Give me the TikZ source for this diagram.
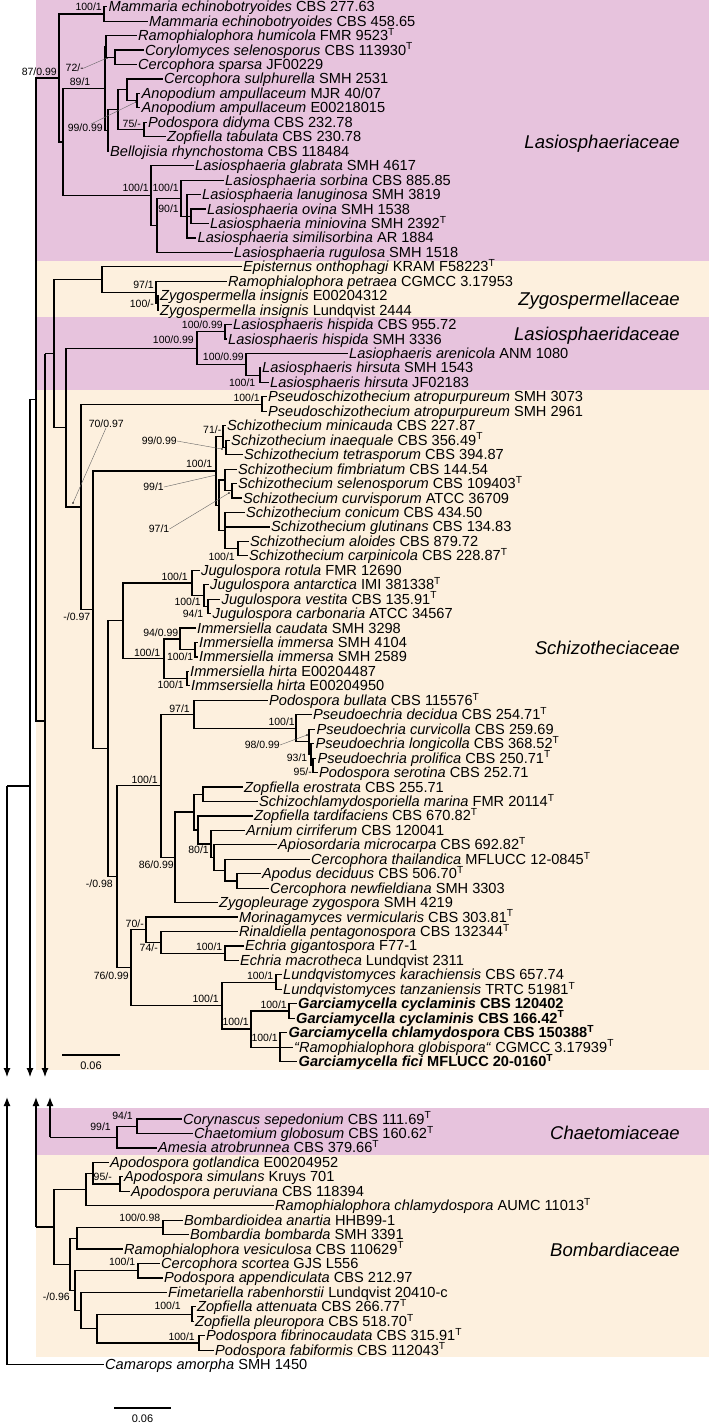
\documentclass[tikz,border=0pt]{standalone}
\usepackage{fontspec}
\setmainfont{Liberation Sans}
\usetikzlibrary{arrows.meta}
\definecolor{pinkbg}{RGB}{231,195,221}
\definecolor{creambg}{RGB}{253,240,222}
\newcommand\taxfont{\fontsize{14.6}{16}\selectfont}
\newcommand\bsfont{\fontsize{10.5}{12}\selectfont}
\newcommand\famfont{\fontsize{18.5}{20}\selectfont\itshape}
\newcommand\supT{\textsuperscript{T}}
\begin{document}
\begin{tikzpicture}[x=1pt,y=-1pt,
  br/.style={line width=1.2pt,black},
  arr/.style={br,-{Latex[length=9pt,width=7pt]}},
  tip/.style={anchor=west,inner xsep=1.5pt,inner ysep=0pt,font=\taxfont,text height=10pt,text depth=0pt},
  bs/.style={anchor=east,inner sep=0pt,font=\bsfont,text height=7.5pt,text depth=0pt},
  fam/.style={anchor=east,inner sep=0pt,font=\famfont,text height=13.3pt,text depth=0pt},
  sc/.style={inner sep=0pt,font=\fontsize{11}{12}\selectfont},
  lead/.style={line width=0.4pt,black!60}]
\useasboundingbox (0,0) rectangle (709,1425);
\fill[white] (0,0) rectangle (709,1425);
% bands
\fill[pinkbg] (36,0) rectangle (709,261);
\fill[creambg] (36,261) rectangle (709,317);
\fill[pinkbg] (36,317) rectangle (709,390);
\fill[creambg] (36,390) rectangle (709,1070);
\fill[pinkbg] (36,1108) rectangle (709,1155);
\fill[creambg] (36,1155) rectangle (709,1357);
% family labels
\node[fam] (fam1) at (680,142) {Lasiosphaeriaceae};
\node[fam] (fam2) at (680,299) {Zygospermellaceae};
\node[fam] (fam3) at (680,334) {Lasiosphaeridaceae};
\node[fam] (fam4) at (680,648) {Schizotheciaceae};
\node[fam] (fam5) at (680,1133) {Chaetomiaceae};
\node[fam] (fam6) at (680,1250) {Bombardiaceae};
% tips upper
\node[tip] (t1) at (107,6.70) {\textit{Mammaria echinobotryoides} CBS 277.63};
\node[tip] (t2) at (147.5,21.15) {\textit{Mammaria echinobotryoides} CBS 458.65};
\node[tip] (t3) at (136.5,35.60) {\textit{Ramophialophora humicola} FMR 9523\supT};
\node[tip] (t4) at (143.5,50.05) {\textit{Corylomyces selenosporus} CBS 113930\supT};
\node[tip] (t5) at (136.5,64.50) {\textit{Cercophora sparsa} JF00229};
\node[tip] (t6) at (162.5,78.95) {\textit{Cercophora sulphurella} SMH 2531};
\node[tip] (t7) at (140,93.40) {\textit{Anopodium ampullaceum} MJR 40/07};
\node[tip] (t8) at (140,107.85) {\textit{Anopodium ampullaceum} E00218015};
\node[tip] (t9) at (146.5,122.30) {\textit{Podospora didyma} CBS 232.78};
\node[tip] (t10) at (165.5,136.75) {\textit{Zopfiella tabulata} CBS 230.78};
\node[tip] (t11) at (108.5,151.20) {\textit{Bellojisia rhynchostoma} CBS 118484};
\node[tip] (t12) at (193.5,165.65) {\textit{Lasiosphaeria glabrata} SMH 4617};
\node[tip] (t13) at (223.5,180.10) {\textit{Lasiosphaeria sorbina} CBS 885.85};
\node[tip] (t14) at (200.5,194.55) {\textit{Lasiosphaeria lanuginosa} SMH 3819};
\node[tip] (t15) at (205.5,209.00) {\textit{Lasiosphaeria ovina} SMH 1538};
\node[tip] (t16) at (208.5,223.45) {\textit{Lasiosphaeria miniovina} SMH 2392\supT};
\node[tip] (t17) at (196,237.90) {\textit{Lasiosphaeria similisorbina} AR 1884};
\node[tip] (t18) at (232.5,252.35) {\textit{Lasiosphaeria rugulosa} SMH 1518};
\node[tip] (t19) at (241.5,266.80) {\textit{Episternus onthophagi} KRAM F58223\supT};
\node[tip] (t20) at (226.5,281.25) {\textit{Ramophialophora petraea} CGMCC 3.17953};
\node[tip] (t21) at (158.5,295.70) {\textit{Zygospermella insignis} E00204312};
\node[tip] (t22) at (158.5,310.15) {\textit{Zygospermella insignis} Lundqvist 2444};
\node[tip] (t23) at (231.5,324.60) {\textit{Lasiosphaeris hispida} CBS 955.72};
\node[tip] (t24) at (226.5,339.05) {\textit{Lasiosphaeris hispida} SMH 3336};
\node[tip] (t25) at (347.5,353.50) {\textit{Lasiophaeris arenicola} ANM 1080};
\node[tip] (t26) at (260.5,367.95) {\textit{Lasiosphaeris hirsuta} SMH 1543};
\node[tip] (t27) at (268.5,382.40) {\textit{Lasiosphaeris hirsuta} JF02183};
\node[tip] (t28) at (266.5,396.85) {\textit{Pseudoschizothecium atropurpureum} SMH 3073};
\node[tip] (t29) at (266.5,411.30) {\textit{Pseudoschizothecium atropurpureum} SMH 2961};
\node[tip] (t30) at (225.5,425.75) {\textit{Schizothecium minicauda} CBS 227.87};
\node[tip] (t31) at (229.5,440.20) {\textit{Schizothecium inaequale} CBS 356.49\supT};
\node[tip] (t32) at (242.5,454.65) {\textit{Schizothecium tetrasporum} CBS 394.87};
\node[tip] (t33) at (236.5,469.10) {\textit{Schizothecium fimbriatum} CBS 144.54};
\node[tip] (t34) at (236.5,483.55) {\textit{Schizothecium selenosporum} CBS 109403\supT};
\node[tip] (t35) at (241.5,498.00) {\textit{Schizothecium curvisporum} ATCC 36709};
\node[tip] (t36) at (244.5,512.45) {\textit{Schizothecium conicum} CBS 434.50};
\node[tip] (t37) at (269.5,526.90) {\textit{Schizothecium glutinans} CBS 134.83};
\node[tip] (t38) at (248.5,541.35) {\textit{Schizothecium aloides} CBS 879.72};
\node[tip] (t39) at (247.5,555.80) {\textit{Schizothecium carpinicola} CBS 228.87\supT};
\node[tip] (t40) at (199.5,570.25) {\textit{Jugulospora rotula} FMR 12690};
\node[tip] (t41) at (208.5,584.70) {\textit{Jugulospora antarctica} IMI 381338\supT};
\node[tip] (t42) at (220,599.15) {\textit{Jugulospora vestita} CBS 135.91\supT};
\node[tip] (t43) at (211,613.60) {\textit{Jugulospora carbonaria} ATCC 34567};
\node[tip] (t44) at (195.5,628.05) {\textit{Immersiella caudata} SMH 3298};
\node[tip] (t45) at (197.5,642.50) {\textit{Immersiella immersa} SMH 4104};
\node[tip] (t46) at (197.5,656.95) {\textit{Immersiella immersa} SMH 2589};
\node[tip] (t47) at (188.5,671.40) {\textit{Immersiella hirta} E00204487};
\node[tip] (t48) at (189.5,685.85) {\textit{Immsersiella hirta} E00204950};
\node[tip] (t49) at (267.5,700.30) {\textit{Podospora bullata} CBS 115576\supT};
\node[tip] (t50) at (311.5,714.75) {\textit{Pseudoechria decidua} CBS 254.71\supT};
\node[tip] (t51) at (315,729.20) {\textit{Pseudoechria curvicolla} CBS 259.69};
\node[tip] (t52) at (314,743.65) {\textit{Pseudoechria longicolla} CBS 368.52\supT};
\node[tip] (t53) at (316,758.10) {\textit{Pseudoechria prolifica} CBS 250.71\supT};
\node[tip] (t54) at (317.5,772.55) {\textit{Podospora serotina} CBS 252.71};
\node[tip] (t55) at (242.5,787.00) {\textit{Zopfiella erostrata} CBS 255.71};
\node[tip] (t56) at (257.5,801.45) {\textit{Schizochlamydosporiella marina} FMR 20114\supT};
\node[tip] (t57) at (252.5,815.90) {\textit{Zopfiella tardifaciens} CBS 670.82\supT};
\node[tip] (t58) at (244.5,830.35) {\textit{Arnium cirriferum} CBS 120041};
\node[tip] (t59) at (276.5,844.80) {\textit{Apiosordaria microcarpa} CBS 692.82\supT};
\node[tip] (t60) at (309.5,859.25) {\textit{Cercophora thailandica} MFLUCC 12-0845\supT};
\node[tip] (t61) at (260.5,873.70) {\textit{Apodus deciduus} CBS 506.70\supT};
\node[tip] (t62) at (268.5,888.15) {\textit{Cercophora newfieldiana} SMH 3303};
\node[tip] (t63) at (217.5,902.60) {\textit{Zygopleurage zygospora} SMH 4219};
\node[tip] (t64) at (237.5,917.05) {\textit{Morinagamyces vermicularis} CBS 303.81\supT};
\node[tip] (t65) at (237.5,931.50) {\textit{Rinaldiella pentagonospora} CBS 132344\supT};
\node[tip] (t66) at (243.5,945.95) {\textit{Echria gigantospora} F77-1};
\node[tip] (t67) at (238.5,960.40) {\textit{Echria macrotheca} Lundqvist 2311};
\node[tip] (t68) at (281.5,974.85) {\textit{Lundqvistomyces karachiensis} CBS 657.74};
\node[tip] (t69) at (281.5,989.30) {\textit{Lundqvistomyces tanzaniensis} TRTC 51981\supT};
\node[tip] (t70) at (296.5,1003.75) {\textbf{\textit{Garciamycella cyclaminis} CBS 120402}};
\node[tip] (t71) at (294.5,1018.20) {\textbf{\textit{Garciamycella cyclaminis} CBS 166.42\supT}};
\node[tip] (t72) at (287,1032.65) {\textbf{\textit{Garciamycella chlamydospora} CBS 150388\supT}};
\node[tip] (t73) at (292.5,1047.10) {\textit{“Ramophialophora globispora“} CGMCC 3.17939\supT};
\node[tip] (t74) at (297,1061.55) {\textbf{\textit{Garciamycella fici} MFLUCC 20-0160\supT}};
% tips lower
\node[tip] (u0) at (181.5,1119.00) {\textit{Corynascus sepedonium} CBS 111.69\supT};
\node[tip] (u1) at (192.5,1133.45) {\textit{Chaetomium globosum} CBS 160.62\supT};
\node[tip] (u2) at (156.5,1147.90) {\textit{Amesia atrobrunnea} CBS 379.66\supT};
\node[tip] (u3) at (108.5,1162.35) {\textit{Apodospora gotlandica} E00204952};
\node[tip] (u4) at (122.5,1176.80) {\textit{Apodospora simulans} Kruys 701};
\node[tip] (u5) at (129.5,1191.25) {\textit{Apodospora peruviana} CBS 118394};
\node[tip] (u6) at (273.5,1205.70) {\textit{Ramophialophora chlamydospora} AUMC 11013\supT};
\node[tip] (u7) at (182.5,1220.15) {\textit{Bombardioidea anartia} HHB99-1};
\node[tip] (u8) at (188.5,1234.60) {\textit{Bombardia bombarda} SMH 3391};
\node[tip] (u9) at (122.5,1249.05) {\textit{Ramophialophora vesiculosa} CBS 110629\supT};
\node[tip] (u10) at (159.5,1263.50) {\textit{Cercophora scortea} GJS L556};
\node[tip] (u11) at (162.5,1277.95) {\textit{Podospora appendiculata} CBS 212.97};
\node[tip] (u12) at (166.5,1292.40) {\textit{Fimetariella rabenhorstii} Lundqvist 20410-c};
\node[tip] (u13) at (195.5,1306.85) {\textit{Zopfiella attenuata} CBS 266.77\supT};
\node[tip] (u14) at (193.5,1321.30) {\textit{Zopfiella pleuropora} CBS 518.70\supT};
\node[tip] (u15) at (204.5,1335.75) {\textit{Podospora fibrinocaudata} CBS 315.91\supT};
\node[tip] (u16) at (213.5,1350.20) {\textit{Podospora fabiformis} CBS 112043\supT};
\node[tip] (u17) at (103.5,1364.65) {\textit{Camarops amorpha} SMH 1450};
% internal nodes upper
\coordinate (M) at (104,13.9);
\coordinate (C1) at (115,57.3);
\coordinate (C) at (106,46.4);
\coordinate (AN) at (137,100.6);
\coordinate (N127) at (127,89.8);
\coordinate (PD) at (144,129.5);
\coordinate (N118) at (118,109.7);
\coordinate (E) at (108,130.4);
\coordinate (D) at (105,88.4);
\coordinate (K) at (191,216.2);
\coordinate (I) at (187,216.2);
\coordinate (H) at (181,198.2);
\coordinate (G) at (157,225.3);
\coordinate (F) at (151,195.5);
\coordinate (B) at (63,142.0);
\coordinate (A) at (59,78.0);
\coordinate (Z3) at (158,302.9);
\coordinate (Z2) at (156,292.1);
\coordinate (Z1) at (102,279.5);
\coordinate (Q1) at (225,331.8);
\coordinate (Q3) at (260,375.2);
\coordinate (Q2) at (246,364.3);
\coordinate (Q0) at (197,348.1);
\coordinate (P) at (262,404.1);
\coordinate (S2) at (226,447.4);
\coordinate (S1) at (223,436.6);
\coordinate (S4) at (232,490.8);
\coordinate (S3) at (225,479.9);
\coordinate (S6) at (238,548.6);
\coordinate (S5) at (225,530.5);
\coordinate (S0b) at (219,505.2);
\coordinate (S0) at (216,470.9);
\coordinate (J3) at (208,606.4);
\coordinate (J2) at (204,595.5);
\coordinate (J1) at (192,582.9);
\coordinate (I1b) at (195,649.7);
\coordinate (I1) at (180,638.9);
\coordinate (I2) at (187,678.6);
\coordinate (I0) at (164,658.8);
\coordinate (J0) at (123,620.8);
\coordinate (PE3) at (313,765.3);
\coordinate (PE2) at (311,754.5);
\coordinate (PE1) at (309,741.8);
\coordinate (PE0) at (296,728.3);
\coordinate (PB) at (194,714.3);
\coordinate (ZE) at (203,794.2);
\coordinate (AD) at (237,880.9);
\coordinate (CT) at (225,870.1);
\coordinate (AP) at (214,857.5);
\coordinate (AR) at (211,843.9);
\coordinate (TA) at (198,829.9);
\coordinate (ZT) at (194,812.0);
\coordinate (N175) at (175,857.3);
\coordinate (N161) at (161,785.8);
\coordinate (EC) at (225,953.2);
\coordinate (RE) at (161,942.3);
\coordinate (MR) at (146,929.7);
\coordinate (LU) at (276,982.1);
\coordinate (GB) at (289,1011.0);
\coordinate (GC) at (280,1047.1);
\coordinate (GA) at (251,1029.0);
\coordinate (LG) at (222,1005.6);
\coordinate (N131) at (131,967.6);
\coordinate (N117) at (117,876.7);
\coordinate (N108) at (108,748.8);
\coordinate (N93) at (93,609.8);
\coordinate (N81) at (81,507.0);
\coordinate (N66) at (66,427.6);
\coordinate (N54) at (54,353.5);
\coordinate (N45) at (45,353.5);
\coordinate (N45h) at (45,721);
\coordinate (N36) at (36,399.4);
\coordinate (N30) at (30,399.4);
\coordinate (N30r) at (30,786);
\coordinate (R) at (7,786);
\coordinate (aR) at (7,1077);
\coordinate (aN30) at (30,1077);
\coordinate (aN45) at (45,1077);
% internal nodes lower
\coordinate (CH1) at (137,1126.2);
\coordinate (CH0) at (117,1137.1);
\coordinate (l50) at (50,1137.1);
\coordinate (AP1) at (120,1184.0);
\coordinate (AP0) at (93,1173.2);
\coordinate (APn) at (86,1189.5);
\coordinate (BB) at (163,1227.4);
\coordinate (BV) at (77,1238.2);
\coordinate (CS) at (138,1270.7);
\coordinate (ZA) at (192,1314.1);
\coordinate (PF) at (199,1343.0);
\coordinate (ZP) at (97,1328.5);
\coordinate (FI) at (81,1310.4);
\coordinate (CF) at (75,1290.5);
\coordinate (BO1) at (70,1264.4);
\coordinate (BO0) at (54,1226.9);
\coordinate (l36) at (36,1226.9);
\coordinate (lR) at (7,1364.65);
\coordinate (bR) at (7,1097);
\coordinate (b36) at (36,1097);
\coordinate (b50) at (50,1097);
% branches
\foreach \p/\c in {M/t1,M/t2,C/t3,C/C1,C1/t4,C1/t5,AN/t7,AN/t8,N127/t6,N127/AN,PD/t9,PD/t10,
  N118/N127,N118/PD,E/N118,E/t11,D/C,D/E,K/t15,K/t16,I/t14,I/K,I/t17,H/t13,H/I,G/H,G/t18,
  F/t12,F/G,B/D,B/F,A/M,A/B,
  Z3/t21,Z3/t22,Z2/t20,Z2/Z3,Z1/t19,Z1/Z2,
  Q1/t23,Q1/t24,Q3/t26,Q3/t27,Q2/t25,Q2/Q3,Q0/Q1,Q0/Q2,
  P/t28,P/t29,
  S2/t31,S2/t32,S1/t30,S1/S2,S4/t34,S4/t35,S3/t33,S3/S4,S6/t38,S6/t39,S5/t36,S5/t37,S5/S6,
  S0b/S3,S0b/S5,S0/S1,S0/S0b,
  J3/t42,J3/t43,J2/t41,J2/J3,J1/t40,J1/J2,I1b/t45,I1b/t46,I1/t44,I1/I1b,I2/t47,I2/t48,
  I0/I1,I0/I2,J0/J1,J0/I0,
  PE3/t53,PE3/t54,PE2/t52,PE2/PE3,PE1/t51,PE1/PE2,PE0/t50,PE0/PE1,PB/t49,PB/PE0,
  ZE/t55,ZE/t56,AD/t61,AD/t62,CT/t60,CT/AD,AP/t59,AP/CT,AR/t58,AR/AP,TA/t57,TA/AR,
  ZT/ZE,ZT/TA,N175/ZT,N175/t63,N161/PB,N161/N175,
  EC/t66,EC/t67,RE/t65,RE/EC,MR/t64,MR/RE,LU/t68,LU/t69,GB/t70,GB/t71,GC/t72,GC/t73,GC/t74,
  GA/GB,GA/GC,LG/LU,LG/GA,N131/MR,N131/LG,
  N117/N161,N117/N131,N108/J0,N108/N117,N93/S0,N93/N108,N81/P,N81/N93,N66/Q0,N66/N81,
  N54/Z1,N54/N66,N45/N54,N36/A,N36/N45h,N30/N36,R/N30r,
  CH1/u0,CH1/u1,CH0/CH1,CH0/u2,l50/CH0,AP1/u4,AP1/u5,AP0/u3,AP0/AP1,APn/AP0,APn/u6,
  BB/u7,BB/u8,BV/BB,BV/u9,CS/u10,CS/u11,ZA/u13,ZA/u14,PF/u15,PF/u16,ZP/ZA,ZP/PF,
  FI/u12,FI/ZP,CF/CS,CF/FI,BO1/BV,BO1/CF,BO0/APn,BO0/BO1,l36/BO0,lR/u17}
  \draw[br] (\p) |- (\c);
% split arrows
\draw[arr] (R) -- (aR);
\draw[arr] (N30) -- (aN30);
\draw[arr] (N45) -- (aN45);
\draw[arr] (lR) -- (bR);
\draw[arr] (l36) -- (b36);
\draw[arr] (l50) -- (b50);
% support values
\node[bs] (s01) at (102,7) {100/1};
\node[bs] (s02) at (57,72) {87/0.99};
\node[bs] (s03) at (84,68) {72/-};
\node[bs] (s04) at (90.5,82) {89/1};
\node[bs] (s05) at (103,128) {99/0.99};
\node[bs] (s06) at (141,124) {75/-};
\node[bs] (s07) at (149,188) {100/1};
\node[bs] (s08) at (179,188) {100/1};
\node[bs] (s09) at (179,209) {90/1};
\node[bs] (s10) at (154,285) {97/1};
\node[bs] (s11) at (154,304) {100/-};
\node[bs] (s12) at (223,325) {100/0.99};
\node[bs] (s13) at (194,340) {100/0.99};
\node[bs] (s14) at (244,357) {100/0.99};
\node[bs] (s15) at (255.5,383) {100/1};
\node[bs] (s16) at (260,398) {100/1};
\node[bs] (s17) at (124,424) {70/0.97};
\node[bs] (s18) at (221.5,430) {71/-};
\node[bs] (s19) at (177,441) {99/0.99};
\node[bs] (s20) at (212.5,464) {100/1};
\node[bs] (s21) at (164,487) {99/1};
\node[bs] (s22) at (169.5,529) {97/1};
\node[bs] (s23) at (235,557) {100/1};
\node[bs] (s24) at (188,577) {100/1};
\node[bs] (s25) at (201,602) {100/1};
\node[bs] (s26) at (203.5,614) {94/1};
\node[bs] (s27) at (90.5,617) {-/0.97};
\node[bs] (s28) at (178.5,633) {94/0.99};
\node[bs] (s29) at (160.5,653) {100/1};
\node[bs] (s30) at (193.5,657) {100/1};
\node[bs] (s31) at (184,685) {100/1};
\node[bs] (s32) at (190,709) {97/1};
\node[bs] (s33) at (295,722) {100/1};
\node[bs] (s34) at (280,745) {98/0.99};
\node[bs] (s35) at (307.5,758) {93/1};
\node[bs] (s36) at (312,772) {95/-};
\node[bs] (s37) at (158,780) {100/1};
\node[bs] (s38) at (209,850) {80/1};
\node[bs] (s39) at (174,865) {86/0.99};
\node[bs] (s40) at (113,884) {-/0.98};
\node[bs] (s41) at (144,924) {70/-};
\node[bs] (s42) at (158,948) {74/-};
\node[bs] (s43) at (222.5,947) {100/1};
\node[bs] (s44) at (129,976) {76/0.99};
\node[bs] (s45) at (273.5,976) {100/1};
\node[bs] (s46) at (219,999) {100/1};
\node[bs] (s47) at (287,1005) {100/1};
\node[bs] (s48) at (249,1022) {100/1};
\node[bs] (s49) at (278,1038) {100/1};
\node[bs] (s50) at (133,1116) {94/1};
\node[bs] (s51) at (111,1127) {99/1};
\node[bs] (s52) at (112,1177) {95/-};
\node[bs] (s53) at (160.5,1218) {100/0.98};
\node[bs] (s54) at (135.5,1262) {100/1};
\node[bs] (s55) at (70,1297) {-/0.96};
\node[bs] (s56) at (181,1306) {100/1};
\node[bs] (s57) at (195,1337) {100/1};
% leader lines
\coordinate (d03) at (107,58);
\coordinate (d05) at (136,102);
\coordinate (d17) at (73,503);
\coordinate (d19) at (222,449);
\coordinate (d21) at (216,475);
\coordinate (d22) at (229,493);
\coordinate (d34) at (307,735);
\draw[lead] (s03.east) -- (d03);
\draw[lead] ([xshift=-12pt]s05.north east) -- (d05);
\draw[lead] ([xshift=-18pt]s17.south east) -- (d17);
\draw[lead] (s19.east) -- (d19);
\draw[lead] (s21.east) -- (d21);
\draw[lead] (s22.east) -- (d22);
\draw[lead] (s34.east) -- (d34);
\foreach \d in {d03,d05,d17,d19,d21,d22,d34} \fill (\d) circle (0.9);
% scale bars
\coordinate (sa1) at (62,1055);
\coordinate (sa2) at (120,1055);
\draw[br] (sa1) -- (sa2);
\node[sc] (sal) at (91,1066) {0.06};
\coordinate (sb1) at (114,1408);
\coordinate (sb2) at (171,1408);
\draw[br] (sb1) -- (sb2);
\node[sc] (sbl) at (142.5,1419) {0.06};
\end{tikzpicture}
\end{document}
